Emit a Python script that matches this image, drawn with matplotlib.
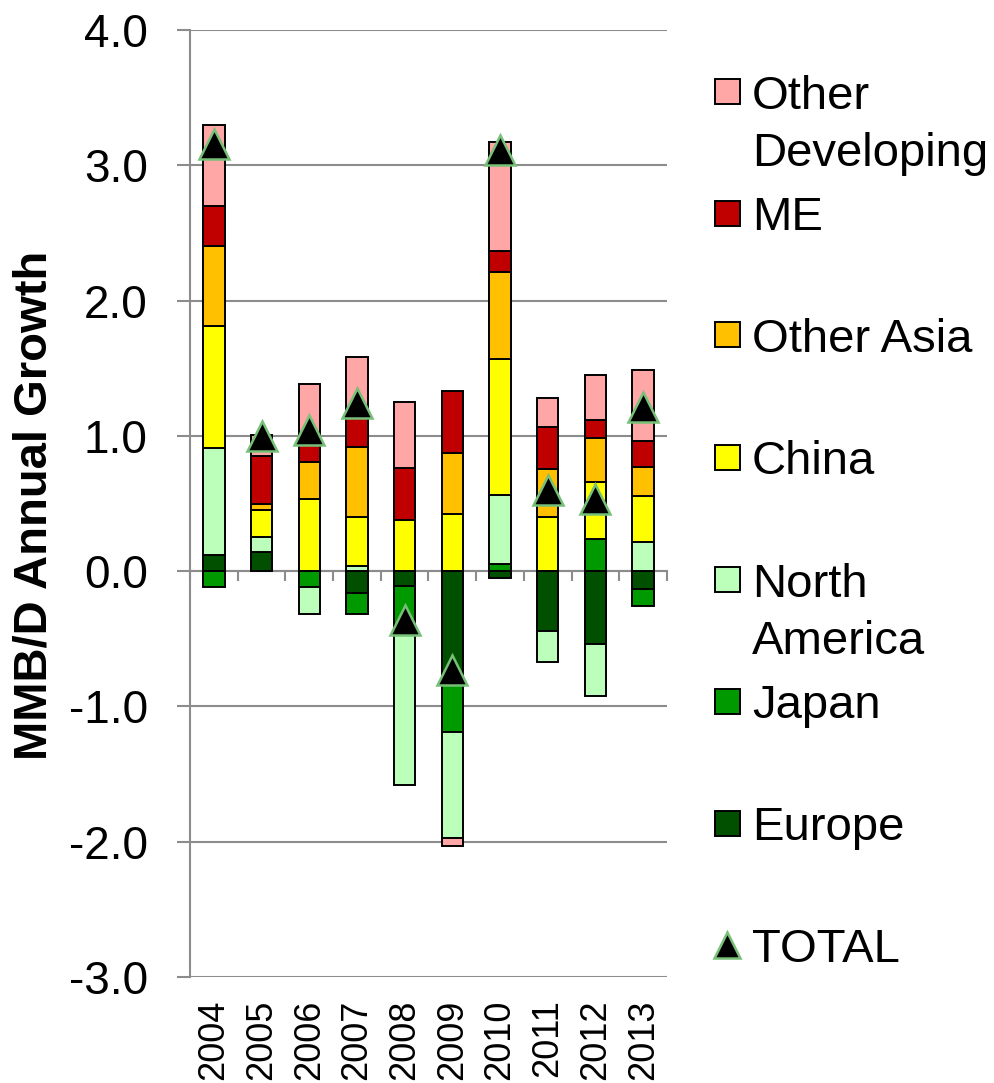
import matplotlib
matplotlib.use('Agg')
import matplotlib.pyplot as plt
import numpy as np
from matplotlib.patches import Rectangle
from matplotlib.lines import Line2D

plt.rcParams['font.family'] = ['Liberation Sans', 'DejaVu Sans']

years = ['2004', '2005', '2006', '2007', '2008', '2009', '2010', '2011', '2012', '2013']

# MMB/D growth by region (stacked order: bottom -> top)
europe = [0.12, 0.14, 0.00, -0.16, -0.11, -0.80, -0.05, -0.44, -0.54, -0.13]
japan = [-0.12, 0.00, -0.12, -0.16, -0.30, -0.39, 0.05, 0.00, 0.24, -0.13]
north_america = [0.79, 0.11, -0.20, 0.04, -1.17, -0.78, 0.51, -0.23, -0.38, 0.215]
china = [0.90, 0.20, 0.53, 0.36, 0.375, 0.42, 1.01, 0.40, 0.42, 0.34]
other_asia = [0.59, 0.05, 0.28, 0.515, 0.00, 0.45, 0.64, 0.355, 0.325, 0.215]
middle_east = [0.30, 0.35, 0.135, 0.255, 0.39, 0.46, 0.16, 0.31, 0.135, 0.195]
other_developing = [0.60, 0.16, 0.435, 0.41, 0.485, -0.06, 0.80, 0.215, 0.33, 0.525]
total = [3.16, 1.00, 1.04, 1.24, -0.36, -0.73, 3.11, 0.60, 0.53, 1.21]

series = [
    ('Europe', europe, '#005000'),
    ('Japan', japan, '#009900'),
    ('North\nAmerica', north_america, '#BBFFBB'),
    ('China', china, '#FFFF00'),
    ('Other Asia', other_asia, '#FFC000'),
    ('ME', middle_east, '#C00000'),
    ('Other\nDeveloping', other_developing, '#FFA6A6'),
]

grey = '#8C8C8C'
W, H = 995, 1083

fig = plt.figure(figsize=(W / 100, H / 100), dpi=100)
ax = fig.add_axes([190 / W, 1 - 977 / H, 477 / W, 947 / H])

x = np.arange(len(years))
pos = np.zeros(len(years))
neg = np.zeros(len(years))
for name, vals, col in series:
    v = np.array(vals)
    bottom = np.where(v >= 0, pos, neg)
    ax.bar(x, v, 0.45, bottom=bottom, color=col, edgecolor='black', linewidth=1.4, zorder=3)
    pos += np.where(v >= 0, v, 0)
    neg += np.where(v < 0, v, 0)

ax.plot(x, total, linestyle='none', marker='^', markersize=21, markerfacecolor='black',
        markeredgecolor='#77C077', markeredgewidth=1.8, zorder=5)

ax.set_xlim(-0.5, 9.5)
ax.set_ylim(-3, 4)
ax.set_yticks(np.arange(-3, 5))
ax.set_yticklabels([f'{v:.1f}' for v in np.arange(-3, 5)], fontsize=33)
ax.yaxis.grid(True, color=grey, linewidth=1.5)
ax.set_axisbelow(True)
ax.tick_params(axis='y', direction='out', length=9.4, width=1.5, color=grey, pad=21)

ax.set_xticks(x)
ax.set_xticklabels(years, rotation=90, fontsize=26)
ax.tick_params(axis='x', length=0, pad=16)

for s in ['top', 'right', 'bottom']:
    ax.spines[s].set_visible(False)
ax.spines['left'].set_color(grey)
ax.spines['left'].set_linewidth(1.5)

# zero line with category separator ticks
zero = ax.secondary_xaxis(3 / 7)
zero.set_xticks(np.arange(-0.5, 10, 1))
zero.set_xticklabels([])
zero.tick_params(direction='out', length=7.5, width=1.5, color=grey)
zero.spines['bottom'].set_color(grey)
zero.spines['bottom'].set_linewidth(1.5)

fig.text(35 / W, 1 - 505 / H, 'MMB/D Annual Growth', rotation=90, fontsize=34,
         fontweight='bold', ha='center', va='center')

# legend: handle next to the first line of each label
line_step = 58
legend_items = list(reversed(series))
for i, (name, vals, col) in enumerate(legend_items):
    yc = 91 + 122 * i
    fig.add_artist(Rectangle((715 / W, 1 - (yc + 12.5) / H), 25 / W, 25 / H,
                             facecolor=col, edgecolor='black', linewidth=1.4,
                             transform=fig.transFigure))
    nlines = name.count('\n')
    fig.text(752 / W, 1 - (yc + 17 + line_step * nlines) / H, name, fontsize=34,
             ha='left', va='baseline', linespacing=1.39)
yc = 91 + 122 * len(legend_items)
fig.add_artist(Line2D([727 / W], [1 - yc / H], marker='^', markersize=19, linestyle='none',
                      markerfacecolor='black', markeredgecolor='#77C077',
                      markeredgewidth=1.8, transform=fig.transFigure))
fig.text(752 / W, 1 - (yc + 17) / H, 'TOTAL', fontsize=34, ha='left', va='baseline')

fig.savefig('out.png', dpi=100)
